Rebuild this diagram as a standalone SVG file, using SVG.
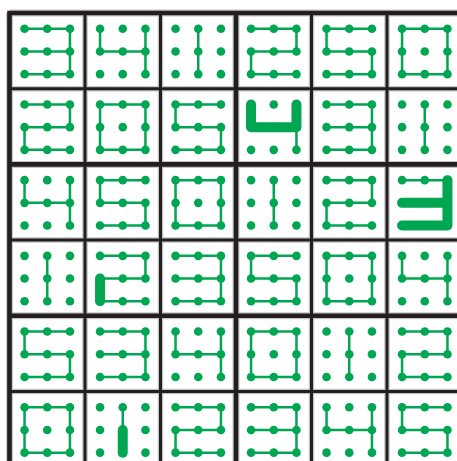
<svg xmlns="http://www.w3.org/2000/svg" xmlns:xlink="http://www.w3.org/1999/xlink" width="457" height="461" viewBox="0 0 457 461">
<style>
.gl{stroke:#c4c4c4;fill:none}
.thin{stroke:#231f20;stroke-width:3;fill:none}
.thick{stroke:#231f20;stroke-width:4.6;fill:none;stroke-linecap:square}
.ln{stroke:#00a651;stroke-width:2.5;fill:none;stroke-linejoin:miter}
.tk{stroke:#00a651;stroke-width:10;fill:none;stroke-linecap:round;stroke-linejoin:round}
.dt{fill:#00a651}
</style>
<defs>
<g id="dots" class="dt">
<circle cx="-22.7" cy="-22.7" r="4.3"/><circle cx="0" cy="-22.7" r="4.3"/><circle cx="22.7" cy="-22.7" r="4.3"/>
<circle cx="-22.7" cy="0" r="4.3"/><circle cx="0" cy="0" r="4.3"/><circle cx="22.7" cy="0" r="4.3"/>
<circle cx="-22.7" cy="22.7" r="4.3"/><circle cx="0" cy="22.7" r="4.3"/><circle cx="22.7" cy="22.7" r="4.3"/>
</g>
<path id="d0" class="ln" d="M-22.7,-22.7 H22.7 V22.7 H-22.7 Z"/>
<path id="d1" class="ln" d="M0,-22.7 V22.7"/>
<path id="d2" class="ln" d="M-22.7,-22.7 H22.7 V0 H-22.7 V22.7 H22.7"/>
<path id="d3" class="ln" d="M-22.7,-22.7 H22.7 V22.7 H-22.7 M-22.7,0 H22.7"/>
<path id="d4" class="ln" d="M-22.7,-22.7 V0 H22.7 M22.7,-22.7 V22.7"/>
<path id="d5" class="ln" d="M22.7,-22.7 H-22.7 V0 H22.7 V22.7 H-22.7"/>
</defs>
<rect width="457" height="461" fill="#fff"/>
<g id="grid">
<g class="gl" stroke-width="5.5">
<path d="M85,13 V467 M160.5,13 V467 M311.5,13 V467 M387,13 V467"/>
<path d="M9.5,88.7 H462 M9.5,240.1 H462 M9.5,391.5 H462"/>
</g>
<g class="gl" stroke-width="7">
<path d="M9.5,13 V467 M236,13 V467"/>
<path d="M9.5,13 H462 M9.5,164.4 H462 M9.5,315.8 H462"/>
</g>
<path class="thin" d="M85,13 V467 M160.5,13 V467 M311.5,13 V467 M387,13 V467 M9.5,88.7 H462 M9.5,240.1 H462 M9.5,391.5 H462"/>
<path class="thick" d="M9.5,13 V467 M236,13 V467 M9.5,13 H462 M9.5,164.4 H462 M9.5,315.8 H462"/>
</g>
<g id="cells">
<g id="r0c0" transform="translate(47.25,51.45)"><use xlink:href="#d3"/><use xlink:href="#dots"/></g>
<g id="r0c1" transform="translate(122.75,51.45)"><use xlink:href="#d4"/><use xlink:href="#dots"/></g>
<g id="r0c2" transform="translate(198.25,51.45)"><use xlink:href="#d1"/><use xlink:href="#dots"/></g>
<g id="r0c3" transform="translate(273.75,51.45)"><use xlink:href="#d2"/><use xlink:href="#dots"/></g>
<g id="r0c4" transform="translate(349.25,51.45)"><use xlink:href="#d5"/><use xlink:href="#dots"/></g>
<g id="r0c5" transform="translate(424.75,51.45)"><use xlink:href="#d0"/><use xlink:href="#dots"/></g>

<g id="r1c0" transform="translate(47.25,127.15)"><use xlink:href="#d2"/><use xlink:href="#dots"/></g>
<g id="r1c1" transform="translate(122.75,127.15)"><use xlink:href="#d0"/><use xlink:href="#dots"/></g>
<g id="r1c2" transform="translate(198.25,127.15)"><use xlink:href="#d5"/><use xlink:href="#dots"/></g>
<g id="r1c3" transform="translate(273.75,127.15)"><use xlink:href="#d4"/><use xlink:href="#dots"/><path class="tk" d="M-22.7,-22.7 V0 H22.7 V-22.7"/></g>
<g id="r1c4" transform="translate(349.25,127.15)"><use xlink:href="#d3"/><use xlink:href="#dots"/></g>
<g id="r1c5" transform="translate(424.75,127.15)"><use xlink:href="#d1"/><use xlink:href="#dots"/></g>

<g id="r2c0" transform="translate(47.25,202.85)"><use xlink:href="#d4"/><use xlink:href="#dots"/></g>
<g id="r2c1" transform="translate(122.75,202.85)"><use xlink:href="#d5"/><use xlink:href="#dots"/></g>
<g id="r2c2" transform="translate(198.25,202.85)"><use xlink:href="#d0"/><use xlink:href="#dots"/></g>
<g id="r2c3" transform="translate(273.75,202.85)"><use xlink:href="#d1"/><use xlink:href="#dots"/></g>
<g id="r2c4" transform="translate(349.25,202.85)"><use xlink:href="#d2"/><use xlink:href="#dots"/></g>
<g id="r2c5" transform="translate(424.75,202.85)"><use xlink:href="#d3"/><use xlink:href="#dots"/><path class="tk" d="M-22.7,0 H22.7 M22.7,-22.7 V22.7 H-22.7"/></g>

<g id="r3c0" transform="translate(47.25,278.55)"><use xlink:href="#d1"/><use xlink:href="#dots"/></g>
<g id="r3c1" transform="translate(122.75,278.55)"><use xlink:href="#d2"/><use xlink:href="#dots"/><path class="tk" d="M-22.7,0 V22.7"/></g>
<g id="r3c2" transform="translate(198.25,278.55)"><use xlink:href="#d3"/><use xlink:href="#dots"/></g>
<g id="r3c3" transform="translate(273.75,278.55)"><use xlink:href="#d5"/><use xlink:href="#dots"/></g>
<g id="r3c4" transform="translate(349.25,278.55)"><use xlink:href="#d0"/><use xlink:href="#dots"/></g>
<g id="r3c5" transform="translate(424.75,278.55)"><use xlink:href="#d4"/><use xlink:href="#dots"/></g>

<g id="r4c0" transform="translate(47.25,354.25)"><use xlink:href="#d5"/><use xlink:href="#dots"/></g>
<g id="r4c1" transform="translate(122.75,354.25)"><use xlink:href="#d3"/><use xlink:href="#dots"/></g>
<g id="r4c2" transform="translate(198.25,354.25)"><use xlink:href="#d4"/><use xlink:href="#dots"/></g>
<g id="r4c3" transform="translate(273.75,354.25)"><use xlink:href="#d0"/><use xlink:href="#dots"/></g>
<g id="r4c4" transform="translate(349.25,354.25)"><use xlink:href="#d1"/><use xlink:href="#dots"/></g>
<g id="r4c5" transform="translate(424.75,354.25)"><use xlink:href="#d2"/><use xlink:href="#dots"/></g>

<g id="r5c0" transform="translate(47.25,429.95)"><use xlink:href="#d0"/><use xlink:href="#dots"/></g>
<g id="r5c1" transform="translate(122.75,429.95)"><use xlink:href="#d1"/><use xlink:href="#dots"/><path class="tk" d="M0,0 V22.7"/></g>
<g id="r5c2" transform="translate(198.25,429.95)"><use xlink:href="#d2"/><use xlink:href="#dots"/></g>
<g id="r5c3" transform="translate(273.75,429.95)"><use xlink:href="#d3"/><use xlink:href="#dots"/></g>
<g id="r5c4" transform="translate(349.25,429.95)"><use xlink:href="#d4"/><use xlink:href="#dots"/></g>
<g id="r5c5" transform="translate(424.75,429.95)"><use xlink:href="#d5"/><use xlink:href="#dots"/></g>
</g>
</svg>
